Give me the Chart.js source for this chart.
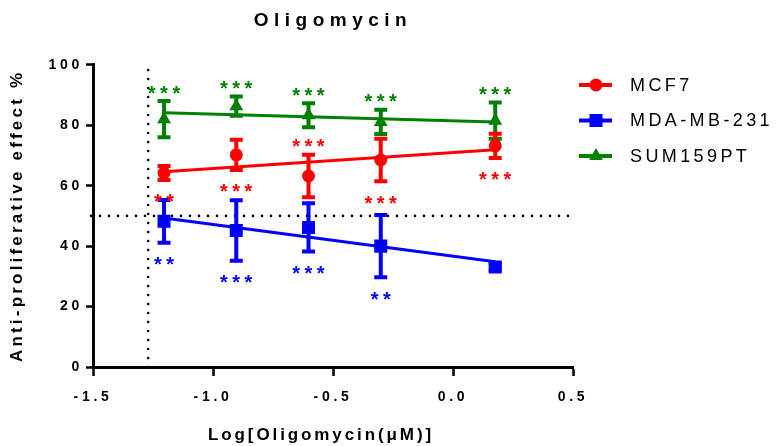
<!DOCTYPE html>
<html>
<head>
<meta charset="utf-8">
<title>Oligomycin</title>
<script src="https://cdn.jsdelivr.net/npm/chart.js@4.4.1/dist/chart.umd.min.js"></script>
<style>
  html, body { margin: 0; padding: 0; background: #fff; }
  #contenedor { width: 776px; height: 446px; }
</style>
</head>
<body>
<div id="contenedor"><canvas id="graficaOligo" width="776" height="446"></canvas></div>
<script>
// Log10 de la concentracion (uM): 0.0625, 0.125, 0.25, 0.5, 1.5
const dosisLog = [-1.204, -0.903, -0.602, -0.301, 0.176];

// Medias y error de cada linea celular (% efecto antiproliferativo)
const mcf7Media = [64.2, 70.2, 63.2, 68.5, 73.2];
const mcf7Error = [2.3, 5, 7, 7, 4];
const mdaMedia = [48.2, 45.2, 46.2, 40, 33.1];
const mdaError = [7.1, 10, 8, 10.3, 1];
const sumMedia = [82, 86.3, 83.3, 81.1, 81.5];
const sumError = [6, 3.2, 4, 4, 6];

// Rectas de regresion (extremos)
const ajusteX = [-1.204, 0.176];
const mcf7Ajuste = [64.6, 71.9];
const mdaAjuste = [49.3, 34.8];
const sumAjuste = [84.1, 81.1];

// Significancia
const mcf7Sig = ['**', '***', '***', '***', '***'];
const mcf7Lado = ['abajo', 'abajo', 'arriba', 'abajo', 'abajo'];
const mdaSig = ['**', '***', '***', '**', ''];
const mdaLado = ['abajo', 'abajo', 'abajo', 'abajo', 'abajo'];
const sumSig = ['***', '***', '***', '***', '***'];
const sumLado = ['arriba', 'arriba', 'arriba', 'arriba', 'arriba'];

// Lineas de referencia punteadas
const referenciaY = 50;
const referenciaX = -1.27;

const ticksX = [-1.5, -1.0, -0.5, 0.0, 0.5];
const ticksY = [0, 20, 40, 60, 80, 100];

const FUENTE = "'Liberation Sans', Arial, sans-serif";

const series = [
  { nombre: 'MCF7', media: mcf7Media, error: mcf7Error, ajuste: mcf7Ajuste, sig: mcf7Sig, lado: mcf7Lado, color: '#ff0000', punto: 'circle', radio: 6.5 },
  { nombre: 'MDA-MB-231', media: mdaMedia, error: mdaError, ajuste: mdaAjuste, sig: mdaSig, lado: mdaLado, color: '#0000ff', punto: 'rect', radio: 9.2 },
  { nombre: 'SUM159PT', media: sumMedia, error: sumError, ajuste: sumAjuste, sig: sumSig, lado: sumLado, color: '#008000', punto: 'triangle', radio: 8 }
];

// envuelve un metodo de dibujo para aplicar espaciado entre letras (y un corrimiento opcional)
function conEspaciado(chart, obj, metodo, esp, dx = 0) {
  if (!obj || !obj[metodo] || obj[metodo].__espaciado) return;
  const original = obj[metodo].bind(obj);
  const envuelto = function (...args) {
    const ctx = chart.ctx;
    const previo = ctx.letterSpacing;
    ctx.save();
    ctx.translate(dx, 0);
    ctx.letterSpacing = esp;
    original(...args);
    ctx.restore();
    ctx.letterSpacing = previo;
  };
  envuelto.__espaciado = true;
  obj[metodo] = envuelto;
}

const pluginExtras = {
  id: 'extras',
  afterLayout(chart) {
    conEspaciado(chart, chart.titleBlock, 'draw', '5.5px');
    conEspaciado(chart, chart.scales.x, 'drawTitle', '2.9px', -12);
    conEspaciado(chart, chart.scales.y, 'drawTitle', '3.2px');
  },
  beforeDraw(chart) {
    chart.ctx.letterSpacing = '3.7px'; // etiquetas de los ejes
  },
  beforeDatasetsDraw(chart) {
    const { ctx, scales: { x, y } } = chart;
    ctx.save();
    ctx.letterSpacing = '0px';
    // lineas punteadas
    ctx.strokeStyle = '#000';
    ctx.lineWidth = 2.6;
    ctx.lineCap = 'round';
    ctx.setLineDash([0, 9]);
    ctx.beginPath();
    ctx.moveTo(x.left - 2, y.getPixelForValue(referenciaY));
    ctx.lineTo(x.right, y.getPixelForValue(referenciaY));
    ctx.moveTo(x.getPixelForValue(referenciaX), y.getPixelForValue(0));
    ctx.lineTo(x.getPixelForValue(referenciaX), y.getPixelForValue(100));
    ctx.stroke();
    ctx.setLineDash([]);
    // barras de error (verde, azul, rojo -> rojo queda encima)
    ctx.lineCap = 'butt';
    ctx.lineWidth = 4;
    [...series].reverse().forEach(s => {
      ctx.strokeStyle = s.color;
      s.media.forEach((m, i) => {
        const px = x.getPixelForValue(dosisLog[i]);
        const arriba = y.getPixelForValue(m + s.error[i]);
        const abajo = y.getPixelForValue(m - s.error[i]);
        ctx.beginPath();
        ctx.moveTo(px, arriba);
        ctx.lineTo(px, abajo);
        ctx.moveTo(px - 6.5, arriba);
        ctx.lineTo(px + 6.5, arriba);
        ctx.moveTo(px - 6.5, abajo);
        ctx.lineTo(px + 6.5, abajo);
        ctx.stroke();
      });
    });
    ctx.restore();
  },
  afterDatasetsDraw(chart) {
    const { ctx, scales: { x, y } } = chart;
    ctx.save();
    ctx.font = `bold 20px ${FUENTE}`;
    ctx.textAlign = 'center';
    ctx.textBaseline = 'alphabetic';
    ctx.letterSpacing = '4.5px';
    series.forEach(s => {
      ctx.fillStyle = s.color;
      s.sig.forEach((txt, i) => {
        if (!txt) return;
        const px = x.getPixelForValue(dosisLog[i]);
        const m = s.media[i];
        const centro = s.lado[i] === 'arriba'
          ? y.getPixelForValue(m + s.error[i]) - 13
          : y.getPixelForValue(m - s.error[i]) + 17;
        ctx.fillText(txt, px + 2.2, centro + 11.5);
      });
    });
    ctx.restore();
  },
  afterDraw(chart) {
    // leyenda a la derecha
    const ctx = chart.ctx;
    ctx.save();
    series.forEach((s, i) => {
      const yy = 85 + i * 35.5;
      ctx.strokeStyle = s.color;
      ctx.lineWidth = 4;
      ctx.beginPath();
      ctx.moveTo(579, yy);
      ctx.lineTo(612, yy);
      ctx.stroke();
      ctx.fillStyle = s.color;
      Chart.helpers.drawPoint(ctx, { pointStyle: s.punto, radius: s.radio, borderWidth: 0, rotation: 0 }, 596, yy);
      ctx.letterSpacing = '3.4px';
      ctx.font = `18px ${FUENTE}`;
      ctx.fillStyle = '#000';
      ctx.textAlign = 'left';
      ctx.textBaseline = 'middle';
      ctx.fillText(s.nombre, 630, yy + 1);
    });
    ctx.restore();
  }
};

const datasetsPuntos = series.map(s => ({
  label: s.nombre,
  data: dosisLog.map((v, i) => ({ x: v, y: s.media[i] })),
  showLine: false,
  pointStyle: s.punto,
  pointRadius: s.radio,
  pointBackgroundColor: s.color,
  pointBorderColor: s.color,
  pointBorderWidth: 0
}));

const datasetsAjuste = series.map(s => ({
  label: s.nombre + ' ajuste',
  data: ajusteX.map((v, i) => ({ x: v, y: s.ajuste[i] })),
  showLine: true,
  borderColor: s.color,
  borderWidth: 3,
  pointRadius: 0
}));

const fuenteEje = { family: FUENTE, size: 14, weight: 'bold' };

new Chart(document.getElementById('graficaOligo'), {
  type: 'scatter',
  data: { datasets: [...datasetsPuntos, ...datasetsAjuste] },
  options: {
    responsive: false,
    animation: false,
    layout: { padding: { left: 0, right: 203, top: 0, bottom: 0 } },
    plugins: {
      legend: { display: false },
      tooltip: { enabled: false },
      title: {
        display: true,
        text: 'Oligomycin',
        color: '#000',
        fullSize: false,
        font: { family: FUENTE, size: 19, weight: 'bold' },
        padding: { top: 9, bottom: 33 }
      }
    },
    scales: {
      x: {
        type: 'linear',
        min: -1.5,
        max: 0.5,
        afterBuildTicks: eje => { eje.ticks = ticksX.map(v => ({ value: v })); },
        afterFit: eje => { eje.height = 79; },
        ticks: {
          color: '#000',
          font: fuenteEje,
          padding: 13,
          maxRotation: 0,
          autoSkip: false,
          callback: v => Number(v).toFixed(1)
        },
        grid: { drawOnChartArea: false, tickLength: 9, tickColor: '#000', tickWidth: 2.5 },
        border: { color: '#000', width: 3 },
        title: {
          display: true,
          text: 'Log[Oligomycin(μM)]',
          color: '#000',
          font: { family: FUENTE, size: 17, weight: 'bold' },
          padding: { top: 0, bottom: 0 }
        }
      },
      y: {
        min: 0,
        max: 100,
        afterBuildTicks: eje => { eje.ticks = ticksY.map(v => ({ value: v })); },
        afterFit: eje => { eje.width = 93; },
        ticks: { color: '#000', font: fuenteEje, padding: 3 },
        grid: { drawOnChartArea: false, tickLength: 7, tickColor: '#000', tickWidth: 2.5 },
        border: { color: '#000', width: 3 },
        title: {
          display: true,
          text: 'Anti-proliferative effect %',
          color: '#000',
          font: { family: FUENTE, size: 17, weight: 'bold' },
          padding: { top: 7, bottom: 0 }
        }
      }
    }
  },
  plugins: [pluginExtras]
});
</script>
</body>
</html>
